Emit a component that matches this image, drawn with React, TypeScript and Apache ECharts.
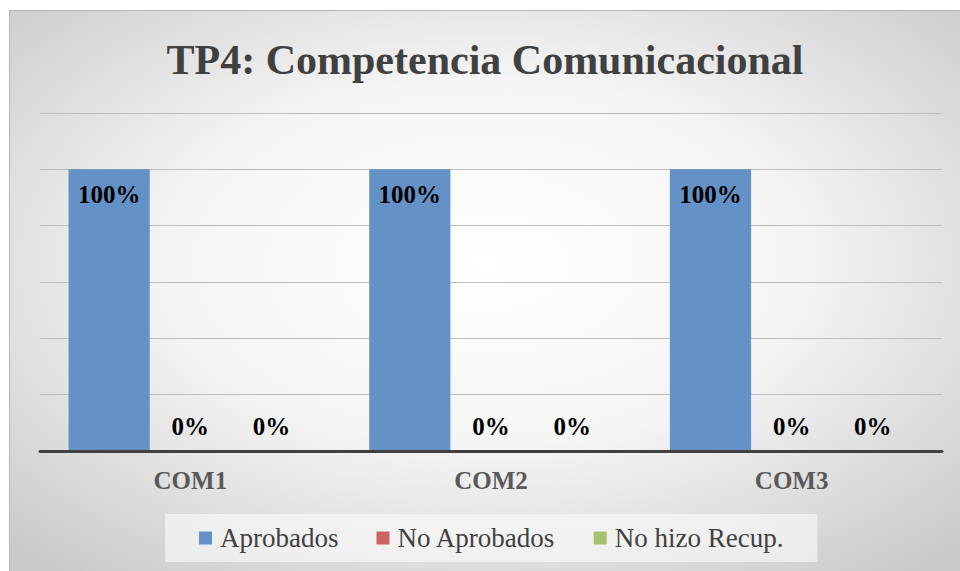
import React, { useEffect, useRef } from "react";
import * as echarts from "echarts";

const categories = ["COM1", "COM2", "COM3"];
const aprobados = [100, 100, 100];
const noAprobados = [0, 0, 0];
const noHizoRecup = [0, 0, 0];
const seriesNames = ["Aprobados", "No Aprobados", "No hizo Recup."];
const seriesColors = ["#6592C6", "#CB6461", "#A5C26A"];
const titleText = "TP4: Competencia Comunicacional";

const FONT = "Liberation Serif";

function makeData(vals: number[]) {
  return vals.map((v) =>
    v === 0
      ? { value: v, label: { position: "top", distance: 12 } }
      : { value: v }
  );
}

export default function App() {
  const ref = useRef<HTMLDivElement>(null);
  useEffect(() => {
    if (!ref.current) return;
    const chart = echarts.init(ref.current, undefined, { renderer: "svg" });
    const values = [aprobados, noAprobados, noHizoRecup];
    chart.setOption({
      animation: false,
      backgroundColor: new echarts.graphic.RadialGradient(0.5, 0.45, 0.72, [
        { offset: 0, color: "#ffffff" },
        { offset: 0.45, color: "#f5f5f5" },
        { offset: 1, color: "#c9c9c9" },
      ]),
      title: {
        text: titleText,
        left: "center",
        top: 23,
        textStyle: {
          fontFamily: FONT,
          fontWeight: "bold",
          fontSize: 42,
          color: "#404040",
        },
      },
      legend: {
        data: seriesNames,
        left: 155,
        top: 503,
        padding: [9, 34, 9, 34],
        backgroundColor: "rgba(255,255,255,0.55)",
        itemWidth: 13,
        itemHeight: 13,
        itemGap: 38,
        icon: "rect",
        textStyle: {
          fontFamily: FONT,
          fontSize: 27,
          color: "#404040",
          lineHeight: 30,
          padding: [0, 0, 0, 3],
        },
      },
      grid: { left: 30, right: 18, top: 102, bottom: 120 },
      xAxis: {
        type: "category",
        data: categories,
        z: 10,
        axisLine: { lineStyle: { color: "#404040", width: 3 } },
        axisTick: { show: false },
        axisLabel: {
          margin: 17,
          fontFamily: FONT,
          fontWeight: "bold",
          fontSize: 25,
          color: "#595959",
        },
      },
      yAxis: {
        type: "value",
        min: 0,
        max: 120,
        interval: 20,
        axisLabel: { show: false },
        axisLine: { show: false },
        axisTick: { show: false },
        splitLine: { lineStyle: { color: "#bdbdbd", width: 1 } },
      },
      series: seriesNames.map((name, i) => ({
        name,
        type: "bar",
        data: makeData(values[i]),
        barGap: "0%",
        barCategoryGap: "19%",
        itemStyle: {
          color: seriesColors[i],
        },
        label: {
          show: true,
          position: "insideTop",
          distance: 13,
          formatter: (p: any) => p.value + "%",
          fontFamily: FONT,
          fontWeight: "bold",
          fontSize: 25,
          color: "#000000",
        },
      })),
    });
    return () => chart.dispose();
  }, []);
  return (
    <div
      style={{
        position: "fixed",
        left: 0,
        top: 0,
        width: 960,
        height: 571,
        background: "#ffffff",
      }}
    >
      <div
        ref={ref}
        style={{
          position: "absolute",
          left: 9,
          top: 10,
          width: 950,
          height: 560,
          borderLeft: "1px solid #b5b5b5",
          borderTop: "1px solid #b5b5b5",
        }}
      />
    </div>
  );
}
